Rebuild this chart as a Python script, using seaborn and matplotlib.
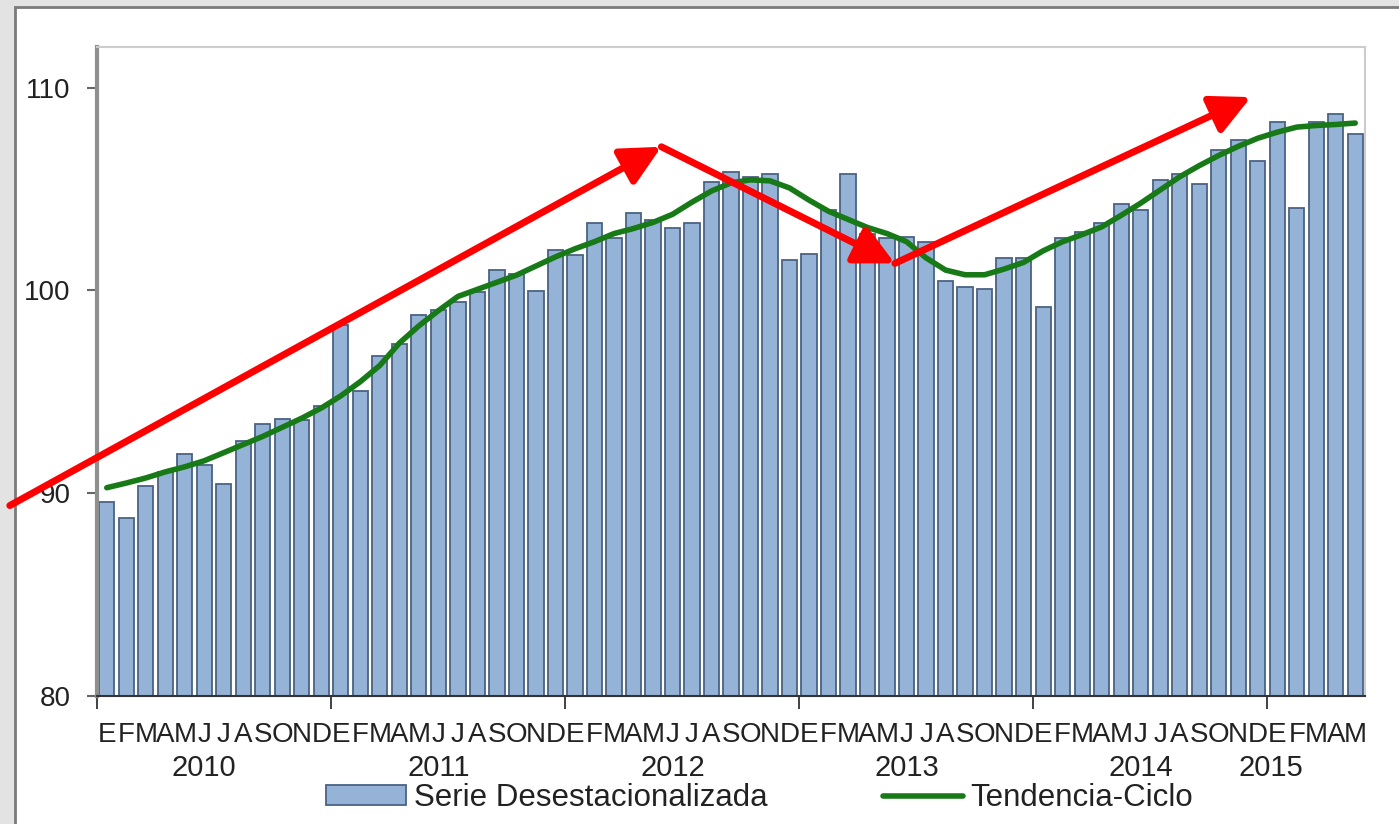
import matplotlib
matplotlib.use("Agg")
import matplotlib.pyplot as plt
import seaborn as sns
import numpy as np
import pandas as pd
from matplotlib.patches import Rectangle, Patch, FancyArrowPatch
from matplotlib.lines import Line2D
import matplotlib.transforms as mtransforms

# ---------------- data ----------------
meses = ["E", "F", "M", "A", "M", "J", "J", "A", "S", "O", "N", "D"]
anios = ["2010", "2011", "2012", "2013", "2014", "2015"]
meses_por_anio = [12, 12, 12, 12, 12, 5]

serie_desestacionalizada = [
    89.55, 88.8, 90.35, 91.05, 91.95, 91.4, 90.45, 92.55, 93.4, 93.65, 93.6, 94.3,   # 2010
    98.3, 95.05, 96.75, 97.35, 98.8, 99.05, 99.45, 99.9, 101.0, 100.8, 99.95, 102.0,  # 2011
    101.75, 103.3, 102.6, 103.8, 103.45, 103.1, 103.3, 105.35, 105.85, 105.6, 105.75, 101.5,  # 2012
    101.8, 103.95, 105.75, 102.8, 102.6, 102.65, 102.4, 100.45, 100.15, 100.05, 101.6, 101.6,  # 2013
    99.2, 102.6, 102.9, 103.3, 104.25, 103.95, 105.45, 105.75, 105.25, 106.9, 107.4, 106.4,   # 2014
    108.3, 104.05, 108.3, 108.7, 107.7,                                                    # 2015
]
tendencia_ciclo = [
    90.27, 90.5, 90.75, 91.05, 91.3, 91.6, 92.0, 92.4, 92.8, 93.25, 93.7, 94.2,
    94.8, 95.5, 96.3, 97.4, 98.25, 99.0, 99.7, 100.05, 100.4, 100.75, 101.2, 101.65,
    102.05, 102.4, 102.8, 103.05, 103.35, 103.75, 104.35, 104.9, 105.3, 105.45, 105.4, 105.05,
    104.45, 103.9, 103.5, 103.1, 102.8, 102.4, 101.6, 101.0, 100.77, 100.77, 101.05, 101.38,
    101.95, 102.4, 102.75, 103.13, 103.7, 104.3, 104.95, 105.6, 106.15, 106.65, 107.1, 107.5,
    107.8, 108.05, 108.13, 108.18, 108.25,
]
# posiciones de las etiquetas de año (en índice de mes)
pos_anio = [5, 17, 29, 41, 53.0, 59.7]
# flechas rojas de tendencia (x en índice de mes, y en valor)
flecha_x = [-4.97, 28.43, 40.4, 58.65]
flecha_y = [89.39, 107.08, 101.33, 109.53]

n = len(serie_desestacionalizada)
etiquetas_mes = []
for k in meses_por_anio:
    etiquetas_mes += meses[:k]

df = pd.DataFrame({"idx": np.arange(n), "valor": serie_desestacionalizada})

# ---------------- figure ----------------
sns.set_theme(style="white")
plt.rcParams["font.family"] = ["Liberation Sans", "DejaVu Sans"]

W, H = 1399, 824
fig = plt.figure(figsize=(W / 100, H / 100), dpi=100)
fig.patch.set_facecolor("#e3e3e3")
fig.patches.append(Rectangle((15 / W, -0.01), 1.0, (H - 7) / H + 0.01, transform=fig.transFigure,
                             facecolor="white", edgecolor="#7a7a7a", linewidth=2.0, zorder=-10))

ax = fig.add_axes([97 / W, (H - 696) / H, (1365 - 97) / W, (696 - 47) / H])
ax.set_zorder(1)
ax.set_facecolor("white")

bar_color = "#95b3d7"
edge_color = "#4a6384"
line_color = "#177a17"

sns.barplot(data=df, x="idx", y="valor", color=bar_color, saturation=1, width=0.78,
            edgecolor=edge_color, linewidth=1.3, ax=ax, zorder=2)
sns.lineplot(x=np.arange(n), y=tendencia_ciclo, color=line_color, linewidth=4, ax=ax, zorder=3)

ax.set_ylim(80, 112)
ax.set_xlim(-0.5, n - 0.5)
ax.set_xlabel("")
ax.set_ylabel("")
ax.set_yticks([80, 90, 100, 110])
ax.set_yticklabels(["80", "90", "100", "110"], fontsize=20, color="#222222")
ax.tick_params(axis="y", length=7, width=1.5, color="#666666", pad=12, left=True)

ax.set_xticks(np.arange(n))
ax.set_xticklabels(etiquetas_mes, fontsize=20, color="#222222",
                   family=["Liberation Sans Narrow", "Liberation Sans", "DejaVu Sans"])
ax.tick_params(axis="x", which="major", length=0, pad=19)
limites = np.cumsum([0] + meses_por_anio)[:-1] - 0.5
ax.set_xticks(limites, minor=True)
ax.tick_params(axis="x", which="minor", length=9, width=1.3, color="#333333", bottom=True)

trans = mtransforms.blended_transform_factory(ax.transData, ax.transAxes)
for anio, p in zip(anios, pos_anio):
    ax.text(p, -0.111, anio, transform=trans, ha="center", va="center", fontsize=21, color="#222222")

for side in ["top", "right"]:
    ax.spines[side].set_visible(True)
    ax.spines[side].set_color("#cccccc")
    ax.spines[side].set_linewidth(1.5)
ax.spines["left"].set_color("#8f8f8f")
ax.spines["left"].set_linewidth(3)
ax.spines["bottom"].set_color("#333333")
ax.spines["bottom"].set_linewidth(1.5)

# red arrows
for i in range(3):
    arr = FancyArrowPatch((flecha_x[i], flecha_y[i]), (flecha_x[i + 1], flecha_y[i + 1]),
                          arrowstyle="-|>,head_length=1.2,head_width=0.6", mutation_scale=20,
                          color="#ff0000", linewidth=5, shrinkA=0, shrinkB=0,
                          clip_on=False, zorder=5, transform=ax.transData)
    ax.add_patch(arr)

handles = [Patch(facecolor=bar_color, edgecolor=edge_color, linewidth=1.3),
           Line2D([0], [0], color=line_color, linewidth=4)]
fig.legend(handles, ["Serie Desestacionalizada", "Tendencia-Ciclo"], loc="center",
           bbox_to_anchor=(760 / W, (H - 798) / H), ncol=2, frameon=False, fontsize=22.5,
           handlelength=2.55, handleheight=0.6, handletextpad=0.25, columnspacing=3.7,
           labelcolor="#222222")

fig.savefig("out.png", dpi=100, facecolor=fig.get_facecolor())
